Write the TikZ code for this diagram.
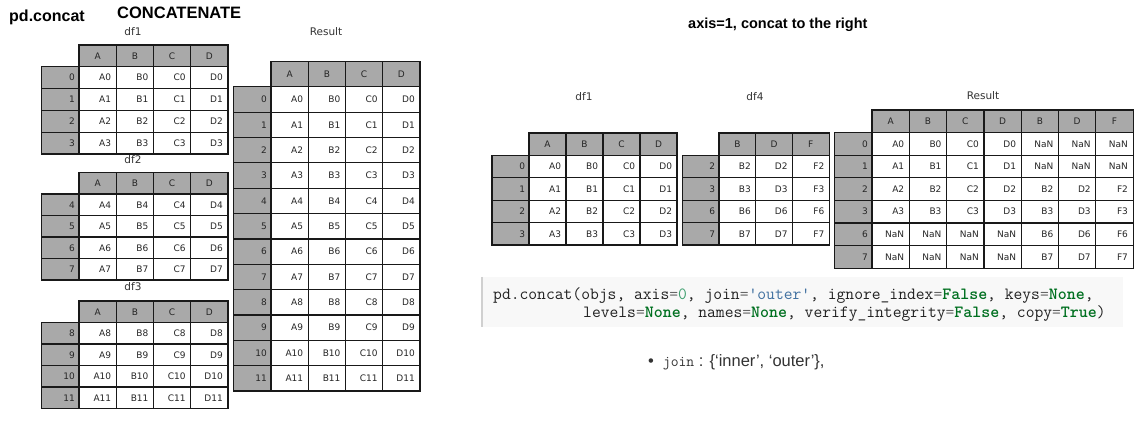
\documentclass[tikz,border=0pt]{standalone}
\usepackage{fontspec}
\usepackage{tikz}
\usetikzlibrary{positioning}

\newfontfamily\tabfont{DejaVu Sans}
\newfontfamily\headfont{Liberation Sans}
\newcommand{\codefont}{\ttfamily}

\definecolor{hdrgray}{HTML}{A9A9A9}
\definecolor{codebg}{HTML}{F8F8F8}
\definecolor{codeedge}{HTML}{D0D0D0}
\definecolor{codetext}{HTML}{222222}
\definecolor{opgray}{HTML}{666666}
\definecolor{numgreen}{HTML}{40A070}
\definecolor{strblue}{HTML}{4070A0}
\definecolor{kwgreen}{HTML}{007020}

\newcommand{\cellfont}{\tabfont\fontsize{9}{10}\selectfont}
\newcommand{\kw}[1]{\textcolor{kwgreen}{\bfseries #1}}
\newcommand{\op}[1]{\textcolor{opgray}{#1}}
\newcommand{\num}[1]{\textcolor{numgreen}{#1}}
\newcommand{\str}[1]{\textcolor{strblue}{#1}}

% #1 name, #2 left of first column, #3 top, #4 column width, #5 row height,
% #6 columns, #7 index (cell text = column + index)
\newcommand{\dftable}[7]{%
  \foreach \c [count=\i] in {#6}
    \node[headcell, minimum width=#4pt, minimum height=#5pt] (#1-h\i)
      at ({#2+(\i-0.5)*#4}, {#3+0.5*#5}) {\c};
  \foreach \r [count=\j] in {#7} {
    \node[idxcell, minimum width=#4pt, minimum height=#5pt] (#1-i\j)
      at ({#2-0.5*#4}, {#3+(\j+0.5)*#5}) {\r};
    \foreach \c [count=\i] in {#6}
      \node[valcell, minimum width=#4pt, minimum height=#5pt] (#1-\j-\i)
        at ({#2+(\i-0.5)*#4}, {#3+(\j+0.5)*#5}) {\c\r};
  }%
}

\begin{document}
\begin{tikzpicture}[
        x=1pt, y=-1pt,
        cell/.style = {
            draw = black!90,
            line width = 1.2pt,
            inner sep = 0pt,
            font = \cellfont,
            text = black!85
        },
        headcell/.style = {cell, fill=hdrgray},
        idxcell/.style = {cell, fill=hdrgray, text width=29pt, align=right},
        valcell/.style = {cell, fill=white, text width=27pt, align=right},
        dflabel/.style = {font=\tabfont\fontsize{10.5}{12}\selectfont, text=black!80, inner sep=0pt},
        title/.style = {font=\headfont\bfseries\fontsize{#1}{#1}\selectfont, inner sep=0pt, anchor=base west},
        codeline/.style = {font=\codefont\fontsize{17.1}{18}\selectfont, text=codetext, inner sep=0pt, anchor=base west}
        ]
        \useasboundingbox (0,0) rectangle (1139,422);
%
        \node[title=16] (concat) at (9,21.7) {pd.concat};
        \node[title=16.5] (caps) at (117,18.3) {CONCATENATE};
        \node[title=14.5] (axis) at (688,28.3) {axis=1, concat to the right};
%
% axis=0, stacked
        \node[dflabel] (lab-df1) at (133,32) {df1};
        \node[dflabel] (lab-df2) at (133,160) {df2};
        \node[dflabel] (lab-df3) at (133,287) {df3};
        \node[dflabel] (lab-res) at (326,32) {Result};
%
        \dftable{df1}{79}{45}{37.25}{21.8}{A,B,C,D}{0,1,2,3}
        \dftable{df2}{79}{172.5}{37.25}{21.5}{A,B,C,D}{4,5,6,7}
        \dftable{df3}{79}{301}{37.25}{21.5}{A,B,C,D}{8,9,10,11}
        \dftable{res}{271}{61.5}{37.25}{25.35}{A,B,C,D}{0,1,2,3,4,5,6,7,8,9,10,11}
%
% axis=1, to the right
        \node[dflabel] (lab-rdf1) at (584,97) {df1};
        \node[dflabel] (lab-rdf4) at (755,97) {df4};
        \node[dflabel] (lab-rres) at (983,96) {Result};
%
        \dftable{rdf1}{529}{133}{37}{22.4}{A,B,C,D}{0,1,2,3}
        \dftable{rdf4}{719}{133}{36.7}{22.4}{B,D,F}{2,3,6,7}
%
        \foreach \c [count=\i] in {A,B,C,D,B,D,F}
            \node[headcell, minimum width=37.3pt, minimum height=22.6pt] (rres-h\i)
                at ({872+(\i-0.5)*37.3}, {110+0.5*22.6}) {\c};
        \foreach \r/\vals [count=\j] in {0/{A0,B0,C0,D0,NaN,NaN,NaN},
                                        1/{A1,B1,C1,D1,NaN,NaN,NaN},
                                        2/{A2,B2,C2,D2,B2,D2,F2},
                                        3/{A3,B3,C3,D3,B3,D3,F3},
                                        6/{NaN,NaN,NaN,NaN,B6,D6,F6},
                                        7/{NaN,NaN,NaN,NaN,B7,D7,F7}} {
            \node[idxcell, minimum width=37.3pt, minimum height=22.6pt] (rres-i\j)
                at ({872-0.5*37.3}, {110+(\j+0.5)*22.6}) {\r};
            \foreach \v [count=\i] in \vals
                \node[valcell, minimum width=37.3pt, minimum height=22.6pt] (rres-\j-\i)
                    at ({872+(\i-0.5)*37.3}, {110+(\j+0.5)*22.6}) {\v};
        }
%
% signature
        \node[fill=codebg, minimum width=641pt, minimum height=50pt, inner sep=0pt] (codebox) at (802.5,302) {};
        \draw[codeedge, line width=1.5pt] (codebox.north west) -- (codebox.south west);
        \node[codeline] (code1) at (493,299.5)
            {pd.concat(objs, axis\op{=}\num{0}, join\op{=}\str{'outer'}, ignore\_index\op{=}\kw{False}, keys\op{=}\kw{None},};
        \node[codeline] (code2) at (583,317.3)
            {levels\op{=}\kw{None}, names\op{=}\kw{None}, verify\_integrity\op{=}\kw{False}, copy\op{=}\kw{True})};
%
        \node[inner sep=0pt, anchor=base west, text=black!80] (joinitem) at (648,366)
            {\headfont\fontsize{16.5}{18}\selectfont •\hspace{9pt}{\codefont\fontsize{15.2}{15}\selectfont join} : \{‘inner’, ‘outer’\},};
%
\end{tikzpicture}
\end{document}
